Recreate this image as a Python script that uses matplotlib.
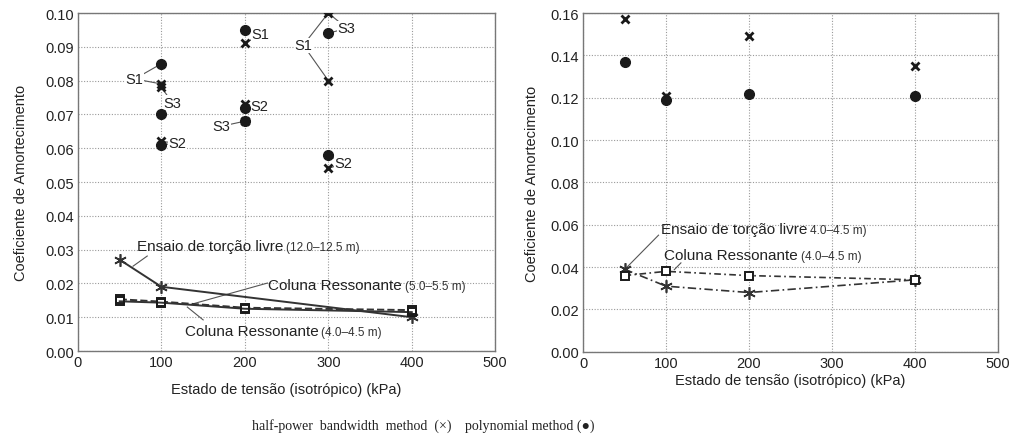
import numpy as np
import matplotlib.pyplot as plt

plt.rcParams['font.family'] = ['Liberation Sans', 'DejaVu Sans']

# ─────────────────────────────────────────
# Data – left panel (scatter, per sample)
# ─────────────────────────────────────────
circ_x_left = [100, 100, 100, 200, 200, 200, 300, 300, 300]
circ_y_left = [0.085, 0.070, 0.061, 0.095, 0.072, 0.068, 0.101, 0.094, 0.058]
cross_x_left = [100, 100, 100, 200, 200, 200, 300, 300, 300]
cross_y_left = [0.079, 0.078, 0.062, 0.091, 0.073, 0.068, 0.100, 0.080, 0.054]

# lines – left panel
torcao_x_left = [50, 100, 400]
torcao_y_left = [0.027, 0.019, 0.010]
cr55_x = [50, 100, 200, 400]
cr55_y = [0.0153, 0.0146, 0.0128, 0.0121]
cr45_x_left = [50, 100, 200, 400]
cr45_y_left = [0.0147, 0.0143, 0.0125, 0.0115]

# S-labels: (text, text x, text y, [(target x, target y), ...])
s_labels = [
    ('S1', 68, 0.0805, [(100, 0.085), (100, 0.079)]),
    ('S3', 113, 0.0735, [(100, 0.078), (100, 0.070)]),
    ('S2', 119, 0.0615, [(100, 0.062), (100, 0.061)]),
    ('S1', 219, 0.0937, [(200, 0.095), (200, 0.091)]),
    ('S2', 217, 0.0725, [(200, 0.073), (200, 0.072)]),
    ('S3', 172, 0.0665, [(200, 0.068)]),
    ('S1', 270, 0.0905, [(300, 0.100), (300, 0.080)]),
    ('S3', 322, 0.0955, [(300, 0.100), (300, 0.094)]),
    ('S2', 318, 0.0555, [(300, 0.058), (300, 0.054)]),
]

# ─────────────────────────────────────────
# Data – right panel
# ─────────────────────────────────────────
circ_x_right = [50, 100, 200, 400]
circ_y_right = [0.137, 0.119, 0.122, 0.121]
cross_x_right = [50, 100, 200, 400]
cross_y_right = [0.157, 0.121, 0.149, 0.135]
torcao_x_right = [50, 100, 200, 400]
torcao_y_right = [0.039, 0.031, 0.028, 0.034]
cr45_x_right = [50, 100, 200, 400]
cr45_y_right = [0.036, 0.038, 0.036, 0.034]

ylabel = 'Coeficiente de Amortecimento'
xlabel = 'Estado de tensão (isotrópico) (kPa)'
INK = '#1a1a1a'
GRID = '#9a9a9a'
ASTER = (6, 2, 0)


def style_axes(ax, ymax, ystep, ypad):
    ax.set_xlim(0, 500)
    ax.set_ylim(0, ymax)
    ax.set_xticks(np.arange(0, 501, 100))
    ax.set_yticks(np.arange(0, ymax + 1e-9, ystep))
    ax.yaxis.set_major_formatter(plt.FormatStrFormatter('%.2f'))
    ax.grid(True, linestyle=(0, (1, 1.5)), color=GRID, linewidth=0.8)
    ax.set_axisbelow(True)
    for s in ax.spines.values():
        s.set_color('#777777')
        s.set_linewidth(1.0)
    ax.tick_params(length=0, labelsize=10.5, colors='#222222', pad=3)
    ax.set_ylabel(ylabel, fontsize=10.5, color='#222222', labelpad=ypad)


def label(ax, x, y, main, sub):
    # main label with a smaller range text right after it
    t = ax.text(x, y, main, fontsize=11, va='center', color='#222222')
    ax.annotate(sub, xy=(1, 0.45), xycoords=t, xytext=(2, 0),
                textcoords='offset points', fontsize=8.5, va='center',
                color='#333333')


fig = plt.figure(figsize=(10.14, 4.35), dpi=100)

# ─────────────────────────────────────────
# Left panel
# ─────────────────────────────────────────
ax1 = fig.add_axes([0.0769, 0.1908, 0.4115, 0.777])
style_axes(ax1, 0.10, 0.01, 12)
ax1.set_xlabel(xlabel, fontsize=10.5, color='#222222', labelpad=9)

for txt, tx, ty, targets in s_labels:
    for px, py in targets:
        ax1.plot([tx, px], [ty, py], color='#555555', lw=0.8, zorder=2)
    ax1.text(tx, ty, txt, fontsize=10.5, ha='center', va='center', color='#222222',
             bbox=dict(facecolor='white', edgecolor='none', pad=0.3), zorder=3)

ax1.plot(circ_x_left, circ_y_left, 'o', color=INK, ms=7, zorder=4)
ax1.plot(cross_x_left, cross_y_left, 'x', color=INK, ms=6, mew=2, zorder=4)

ax1.plot(torcao_x_left, torcao_y_left, '-', color='#333333', lw=1.4,
         marker=ASTER, ms=9, mew=1.2, zorder=4)
ax1.plot(cr55_x, cr55_y, '--', color='#333333', lw=1.4,
         marker='s', ms=6, mfc='white', mec=INK, mew=1.4, zorder=4)
ax1.plot(cr45_x_left, cr45_y_left, '-', color='#333333', lw=1.4,
         marker='s', ms=6, mfc='none', mec=INK, mew=1.4, zorder=4)

# annotations
ax1.plot([83, 66], [0.0281, 0.0251], color='#555555', lw=0.8)
label(ax1, 71, 0.0311, 'Ensaio de torção livre', '(12.0–12.5 m)')

ax1.plot([227, 137], [0.0201, 0.0139], color='#555555', lw=0.8)
label(ax1, 228, 0.0195, 'Coluna Ressonante', '(5.0–5.5 m)')

ax1.plot([150, 131], [0.0092, 0.0130], color='#555555', lw=0.8)
label(ax1, 128, 0.0059, 'Coluna Ressonante', '(4.0–4.5 m)')

# ─────────────────────────────────────────
# Right panel
# ─────────────────────────────────────────
ax2 = fig.add_axes([0.575, 0.189, 0.409, 0.7785])
style_axes(ax2, 0.16, 0.02, 8)
ax2.set_xlabel(xlabel, fontsize=10.5, color='#222222', labelpad=2)

ax2.plot(circ_x_right, circ_y_right, 'o', color=INK, ms=7, zorder=4)
ax2.plot(cross_x_right, cross_y_right, 'x', color=INK, ms=6, mew=2, zorder=4)

ax2.plot(torcao_x_right, torcao_y_right, color='#333333', lw=1.2,
         linestyle=(0, (5, 2, 1, 2)), marker=ASTER, ms=9, mew=1.2, zorder=4)
ax2.plot(cr45_x_right, cr45_y_right, color='#333333', lw=1.2,
         linestyle=(0, (4, 2, 1, 2)), marker='s', ms=6, mfc='white',
         mec=INK, mew=1.4, zorder=4)

ax2.plot([91, 52], [0.0551, 0.0396], color='#555555', lw=0.8)
label(ax2, 94, 0.058, 'Ensaio de torção livre', '4.0–4.5 m)')

ax2.plot([118, 110], [0.042, 0.0388], color='#555555', lw=0.8)
label(ax2, 98, 0.0457, 'Coluna Ressonante', '(4.0–4.5 m)')

# ─────────────────────────────────────────
# Caption
# ─────────────────────────────────────────
fig.text(0.2485, 0.012, 'half-power  bandwidth  method  (×)', fontsize=10,
         family=['Liberation Serif', 'DejaVu Serif'], color='#222222')
fig.text(0.4586, 0.012, 'polynomial method (●)', fontsize=10,
         family=['Liberation Serif', 'DejaVu Sans'], color='#222222')

plt.savefig('out.png', dpi=100)
